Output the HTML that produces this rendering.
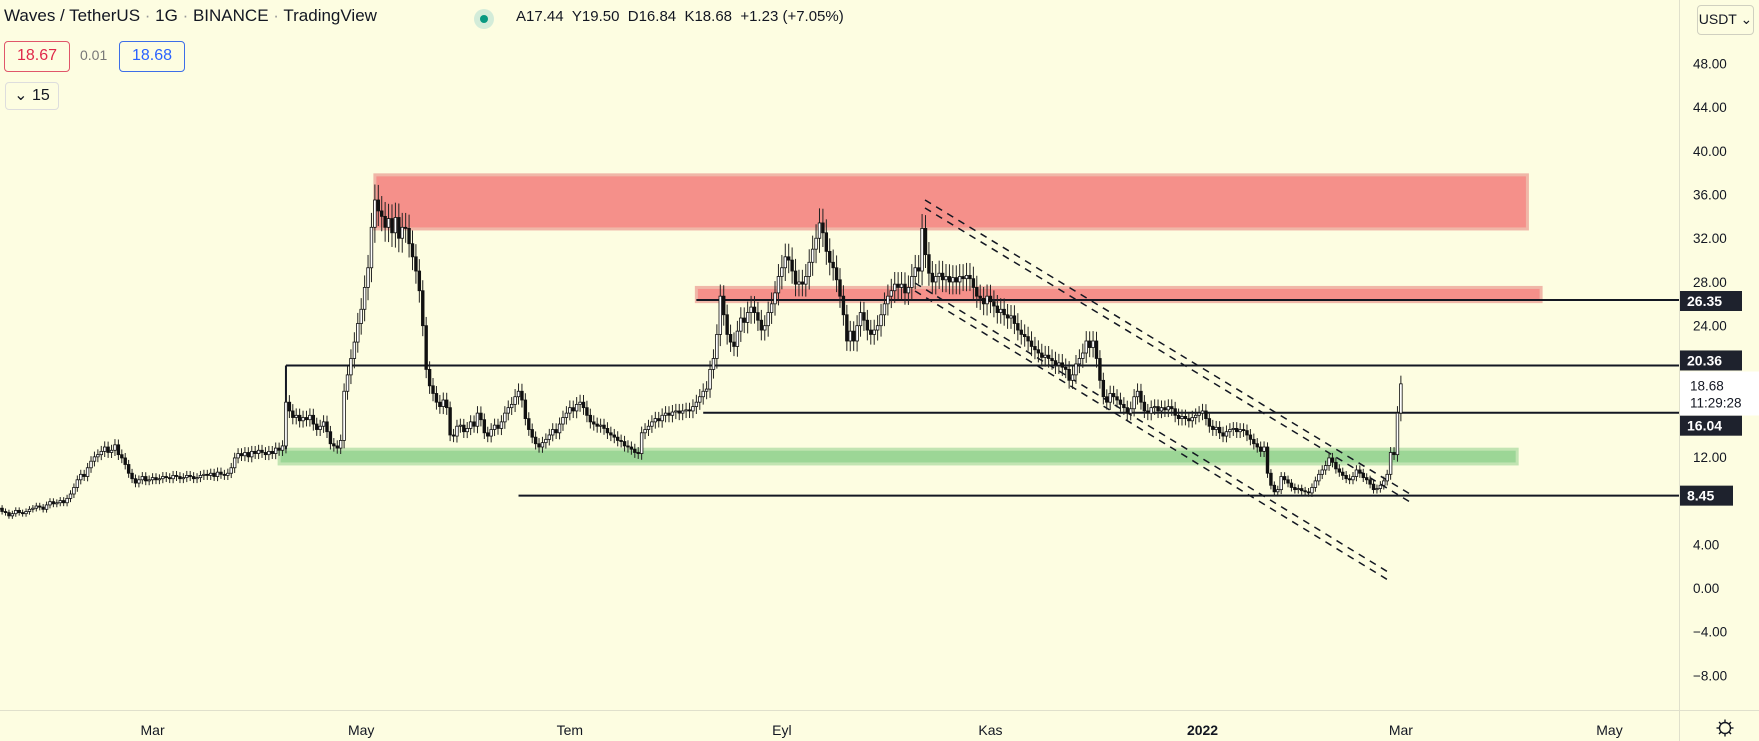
<!DOCTYPE html>
<html><head><meta charset="utf-8">
<style>
html,body{margin:0;padding:0;background:#fdfde1;}
body{width:1759px;height:741px;overflow:hidden;position:relative;font-family:"Liberation Sans",sans-serif;}
svg{position:absolute;left:0;top:0;}
.hdr{position:absolute;font-size:17px;color:#131722;white-space:nowrap;}
.box{position:absolute;border:1px solid;border-radius:4px;font-size:16px;text-align:center;line-height:28px;background:#fdfde1;}
</style></head>
<body>
<svg id="chart" width="1759" height="741"></svg>
<div class="hdr" style="left:4px;top:6px;">Waves / TetherUS <span style="color:#999">·</span> 1G <span style="color:#999">·</span> BINANCE <span style="color:#999">·</span> TradingView</div>
<div style="position:absolute;left:474px;top:9px;width:20px;height:20px;border-radius:10px;background:#d3ecd9;"><div style="position:absolute;left:6px;top:6px;width:8px;height:8px;border-radius:4px;background:#089981;"></div></div>
<div class="hdr" style="left:516px;top:8px;font-size:15px;">A17.44 &nbsp;Y19.50 &nbsp;D16.84 &nbsp;K18.68 &nbsp;+1.23 (+7.05%)</div>
<div class="box" style="left:4px;top:41px;width:64px;height:29px;border-color:#e0566a;color:#e0294a;">18.67</div>
<div class="hdr" style="left:80px;top:47px;font-size:14px;color:#777;">0.01</div>
<div class="box" style="left:119px;top:41px;width:64px;height:29px;border-color:#3d6ee8;color:#2962ff;">18.68</div>
<div class="box" style="left:5px;top:82px;width:52px;height:26px;line-height:25px;border-color:#ddd;color:#131722;font-size:16px;">⌄ 15</div>
<div class="box" style="left:1697px;top:5px;width:55px;height:28px;line-height:27px;border-color:#d0d0c0;color:#131722;font-size:14px;">USDT ⌄</div>
<script>
const closes=[7.3,7.0,6.9,6.6,6.8,7.1,6.9,6.8,7.0,7.2,
7.3,7.5,7.4,7.2,7.6,7.9,7.7,7.8,8.0,7.8,
8.2,8.6,9.2,9.9,10.4,10.2,11.0,11.6,12.0,12.2,
12.5,12.9,12.4,12.6,13.1,12.2,11.9,11.3,10.5,10.0,
9.6,9.9,10.2,9.8,9.9,10.1,9.9,10.0,10.2,10.1,
10.0,10.3,10.2,10.0,10.1,10.3,10.2,10.0,10.1,10.3,
10.4,10.3,10.5,10.2,10.6,10.4,10.3,10.5,11.0,11.9,
12.3,12.1,12.4,12.0,12.5,12.3,12.6,12.4,12.2,12.5,
12.3,12.8,12.6,13.0,17.0,16.2,15.6,15.8,15.3,15.6,
15.4,15.8,15.0,14.5,14.8,15.2,14.3,13.2,13.0,12.8,
13.5,18.0,19.5,21.0,22.5,24.2,25.5,27.5,29.3,33.0,
35.5,34.5,34.0,33.0,33.8,32.5,33.9,32.0,33.0,32.9,
31.5,30.3,29.0,27.2,24.0,20.0,18.5,17.8,17.0,16.6,
17.2,16.5,14.0,13.9,14.8,14.9,14.3,14.6,15.2,14.8,
16.0,15.4,14.2,13.9,14.5,14.9,14.6,15.2,16.0,16.5,
16.8,17.5,18.0,17.2,15.5,14.5,13.8,13.2,12.9,13.3,
13.6,14.0,14.5,14.2,15.0,15.6,16.0,16.5,16.2,16.8,
17.0,16.5,15.8,15.2,15.0,14.8,14.9,14.6,14.2,14.0,
13.8,13.5,13.4,13.0,12.9,12.7,12.4,12.3,14.2,14.5,
14.8,15.2,15.5,15.3,15.8,16.0,15.8,16.1,16.2,16.0,
16.2,16.3,16.2,16.6,17.0,17.5,18.0,18.2,20.0,21.0,
23.2,26.7,25.0,23.2,22.5,22.1,23.5,24.7,24.3,25.2,
25.7,25.2,24.5,23.6,24.0,25.2,26.0,27.0,28.5,29.3,
30.3,30.0,29.0,27.8,28.0,27.8,28.5,29.8,31.0,32.0,
33.4,32.5,30.8,29.8,29.3,28.2,26.7,25.0,22.6,23.5,
22.6,24.0,25.2,24.5,23.6,23.2,23.6,24.0,25.0,26.0,
26.7,27.2,27.8,27.5,27.8,27.0,27.5,28.5,29.3,29.0,
32.9,30.5,28.8,28.0,28.5,28.8,28.2,28.5,28.0,28.4,
28.0,28.5,28.3,28.6,28.3,27.5,26.7,26.5,26.0,26.7,
26.2,25.8,25.2,25.5,25.0,24.7,24.9,24.2,23.6,23.2,
23.0,22.6,22.1,21.8,21.5,21.1,21.3,21.0,20.8,20.4,
20.6,20.2,20.0,19.0,19.5,20.5,21.0,21.5,22.6,22.0,
22.6,21.0,19.0,17.5,17.0,17.8,17.5,17.2,16.8,16.5,
16.0,16.4,17.5,18.0,17.0,16.2,16.0,16.5,16.6,16.2,
16.5,16.3,16.6,16.4,15.8,15.5,15.7,15.5,15.3,15.6,
15.8,16.0,16.2,15.5,14.8,14.5,14.7,14.2,13.9,14.3,
14.5,14.6,14.3,14.5,14.4,14.0,13.6,13.2,12.9,12.5,
12.9,10.5,9.4,8.8,9.0,10.2,9.9,9.6,9.2,9.0,
9.1,8.9,8.8,8.7,9.2,9.8,10.4,10.8,11.2,11.9,
11.5,10.9,10.6,10.3,10.0,9.9,10.2,10.8,10.5,10.1,
9.9,9.5,9.0,9.1,9.4,9.8,10.4,12.4,12.2,16.0,18.68];
const yTicks=[48,44,40,36,32,28,24,12,4,0,-4,-8];
const hLevels=[26.35,20.36,16.04,8.45];
const hLevelStartDay=[204,84,206,152];
const monthLabels=["Mar","May","Tem","Eyl","Kas","2022","Mar","May"];
const monthDays=[-1,60,121,183,244,306,364,425];
const zoneLow=[32.85,26.2,11.35];
const zoneHigh=[37.8,27.5,12.7];
const zoneStartDay=[110,204,82];
const zoneEndDay=[447,451,444];
const zoneColor=["red","red","green"];

const NS="http://www.w3.org/2000/svg";
const svg=document.getElementById('chart');
const PX_DAY=3.42, X0=156-46*PX_DAY;
const TAG_SHIFT=[1,-5,13,0];
function xs(i){return X0+i*PX_DAY;}
function ys(p){return 300+(26.35-p)*10.93;}
function mk(tag,attrs,parent){const e=document.createElementNS(NS,tag);for(const k in attrs)e.setAttribute(k,attrs[k]);(parent||svg).appendChild(e);return e;}

for(let z=0;z<zoneLow.length;z++){
  const r=mk('rect',{x:xs(zoneStartDay[z]),y:ys(zoneHigh[z]),width:xs(zoneEndDay[z])-xs(zoneStartDay[z]),height:ys(zoneLow[z])-ys(zoneHigh[z]),
    fill:zoneColor[z]=="red"?"#f5908a":"#9cd696",stroke:zoneColor[z]=="red"?"#f0b7a8":"#c2e4b2","stroke-width":3});
  
  
}
mk('line',{x1:1679.5,y1:0,x2:1679.5,y2:741,stroke:"#e0e0cc"});
mk('line',{x1:0,y1:710.5,x2:1759,y2:710.5,stroke:"#e0e0cc"});
for(let k=0;k<hLevels.length;k++){
  const l=mk('line',{x1:xs(hLevelStartDay[k]),y1:ys(hLevels[k]),x2:1679,y2:ys(hLevels[k]),stroke:"#131722","stroke-width":2});
  
  
}
mk('line',{x1:xs(84),y1:ys(20.36),x2:xs(84),y2:ys(12.7),stroke:"#131722","stroke-width":2});
const chan=[[925,200,1410,494],[925,208,1410,502],[915,283,1388,572],[915,291,1388,580]];
for(const c of chan){
  const l=mk('line',{x1:c[0],y1:c[1],x2:c[2],y2:c[3],stroke:"#131722","stroke-width":1.5,"stroke-dasharray":"7,6"});
  
  
}
const g=mk('g',{});


for(let i=0;i<closes.length;i++){
  const c=closes[i], o=i?closes[i-1]:c;
  const w=c*0.04;
  const hi=Math.max(o,c)+w, lo=Math.min(o,c)-w;
  const x=xs(i);
  mk('line',{x1:x,y1:ys(hi),x2:x,y2:ys(lo),stroke:"#222","stroke-width":1},g);
  const top=ys(Math.max(o,c)), bot=ys(Math.min(o,c));
  const b=mk('rect',{x:x-1.3,y:top,width:2.6,height:Math.max(1,bot-top),fill:c>=o?"#ffffff":"#111",stroke:"#111","stroke-width":0.8},g);
  
  
}
for(const t of yTicks){
  const tx=mk('text',{x:1693,y:ys(t)+5,"font-size":13.5,fill:"#131722","font-family":"Liberation Sans, sans-serif"});
  tx.textContent=(t<0?"\u2212"+Math.abs(t).toFixed(2):t.toFixed(2));
  
  
}
const last=closes[closes.length-1];
const cpTop=ys(20.36)+6;
const cp=mk('rect',{x:1680,y:cpTop,width:79,height:44,fill:"#ffffff"});


const t1=mk('text',{x:1690,y:cpTop+19,"font-size":13.5,fill:"#131722","font-family":"Liberation Sans, sans-serif"});
t1.textContent=last.toFixed(2);
const t2=mk('text',{x:1690,y:cpTop+36,"font-size":13.5,fill:"#131722","font-family":"Liberation Sans, sans-serif"});
t2.textContent="11:29:28";
for(let k=0;k<hLevels.length;k++){
  const y=ys(hLevels[k])+TAG_SHIFT[k];
  const r=mk('rect',{x:1680,y:y-10,width:hLevels[k]<10?53:62,height:20,fill:"#1e222d"});
  
  
  const t=mk('text',{x:1687,y:y+5,"font-size":14,"font-weight":"bold",fill:"#fff","font-family":"Liberation Sans, sans-serif"});
  t.textContent=hLevels[k].toFixed(2);
  
  
}
for(let m=0;m<monthLabels.length;m++){
  const t=mk('text',{x:xs(46+monthDays[m]),y:735,"font-size":14,"text-anchor":"middle",fill:"#131722","font-weight":monthLabels[m]=="2022"?"bold":"normal","font-family":"Liberation Sans, sans-serif"});
  t.textContent=monthLabels[m];
  
  
}
const gi=mk('g',{stroke:"#131722","stroke-width":1.4,fill:"none"});


mk('circle',{cx:1725,cy:728,r:5.5},gi);
for(let a=0;a<8;a++){const an=a*Math.PI/4;mk('line',{x1:1725+5.5*Math.cos(an),y1:728+5.5*Math.sin(an),x2:1725+8.5*Math.cos(an),y2:728+8.5*Math.sin(an)},gi);}
</script>
</body></html>
